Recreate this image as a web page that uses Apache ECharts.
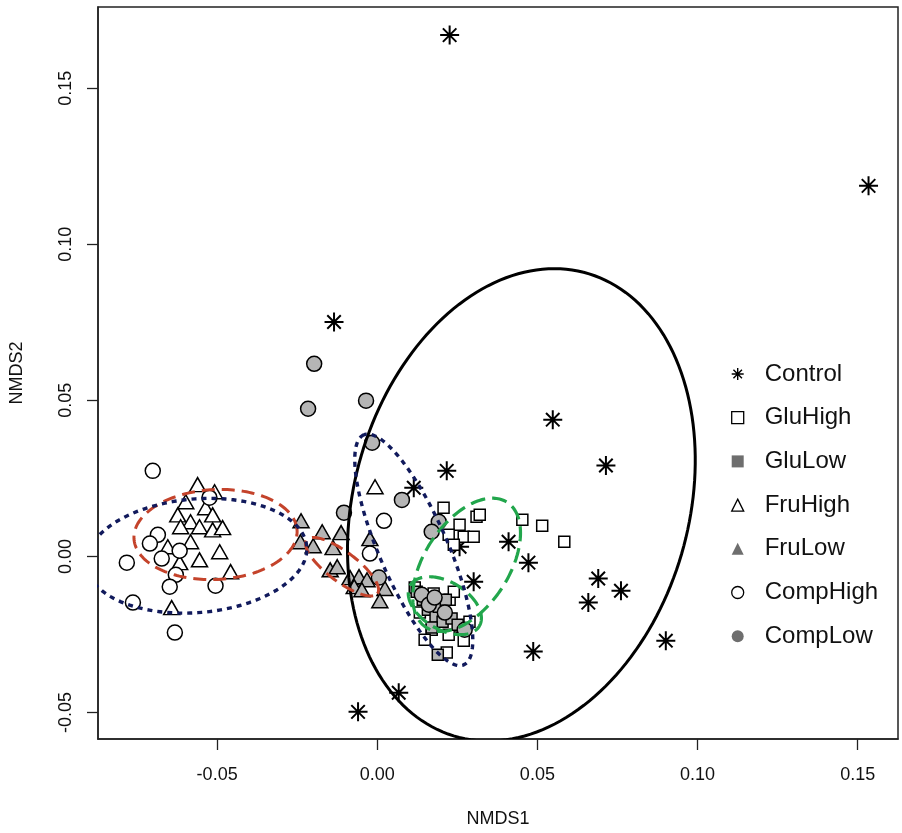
<!DOCTYPE html>
<html>
<head>
<meta charset="utf-8">
<script src="https://cdn.jsdelivr.net/npm/echarts@6/dist/echarts.min.js"></script>
<style>
  html, body { margin: 0; background: #fff; }
  #chart { width: 902px; height: 833px; }
</style>
</head>
<body>
<div id="chart"></div>
<script>
// NMDS scores, one list of [NMDS1, NMDS2] per treatment
var groups = ['Control', 'GluHigh', 'GluLow', 'FruHigh', 'FruLow', 'CompHigh', 'CompLow'];

var control = [
  [0.0226, 0.1670], [0.1534, 0.1187], [-0.0135, 0.0751], [0.0548, 0.0438],
  [0.0714, 0.0291], [0.0217, 0.0274], [0.0114, 0.0220], [0.0410, 0.0047],
  [0.0257, 0.0031], [0.0301, -0.0081], [0.0472, -0.0020], [0.0690, -0.0071],
  [0.0761, -0.0110], [0.0659, -0.0148], [0.0901, -0.0270], [0.0487, -0.0305],
  [0.0067, -0.0437], [-0.0060, -0.0498]
];
var gluHigh = [
  [0.0207, 0.0156], [0.0310, 0.0127], [0.0320, 0.0133], [0.0257, 0.0101],
  [0.0223, 0.0069], [0.0270, 0.0063], [0.0301, 0.0063], [0.0239, 0.0037],
  [0.0453, 0.0117], [0.0515, 0.0098], [0.0584, 0.0047],
  [0.0117, -0.0100], [0.0176, -0.0119], [0.0226, -0.0139], [0.0239, -0.0113],
  [0.0133, -0.0180], [0.0170, -0.0235], [0.0223, -0.0251], [0.0263, -0.0228],
  [0.0288, -0.0209], [0.0148, -0.0267], [0.0270, -0.0270], [0.0217, -0.0308]
];
var gluLow = [
  [0.0123, -0.0113], [0.0142, -0.0139], [0.0158, -0.0171], [0.0182, -0.0193],
  [0.0204, -0.0209], [0.0232, -0.0199], [0.0251, -0.0219], [0.0192, -0.0161],
  [0.0214, -0.0139], [0.0189, -0.0315], [0.0170, -0.0228]
];
var fruHigh = [
  [-0.0561, 0.0230], [-0.0508, 0.0207], [-0.0598, 0.0175], [-0.0536, 0.0156],
  [-0.0623, 0.0133], [-0.0514, 0.0133], [-0.0583, 0.0111], [-0.0614, 0.0095],
  [-0.0555, 0.0095], [-0.0514, 0.0085], [-0.0483, 0.0092], [-0.0583, 0.0047],
  [-0.0654, 0.0031], [-0.0492, 0.0015], [-0.0555, -0.0011], [-0.0617, -0.0020],
  [-0.0458, -0.0049], [-0.0642, -0.0164], [-0.0007, 0.0223]
];
var fruLow = [
  [-0.0238, 0.0114], [-0.0240, 0.0047], [-0.0200, 0.0034], [-0.0172, 0.0079],
  [-0.0113, 0.0076], [-0.0138, 0.0028], [-0.0023, 0.0057], [-0.0147, -0.0043],
  [-0.0125, -0.0033], [-0.0085, -0.0068], [-0.0057, -0.0065], [-0.0032, -0.0075],
  [0.0024, -0.0103], [0.0008, -0.0142], [-0.0072, -0.0097], [-0.0048, -0.0107]
];
var compHigh = [
  [-0.0701, 0.0274], [-0.0685, 0.0069], [-0.0710, 0.0041], [-0.0617, 0.0018],
  [-0.0673, -0.0007], [-0.0782, -0.0020], [-0.0629, -0.0059], [-0.0648, -0.0097],
  [-0.0505, -0.0094], [-0.0763, -0.0148], [-0.0632, -0.0244], [-0.0524, 0.0188],
  [0.0021, 0.0114], [-0.0023, 0.0009]
];
var compLow = [
  [-0.0197, 0.0617], [-0.0216, 0.0473], [-0.0035, 0.0499], [-0.0016, 0.0364],
  [0.0077, 0.0181], [-0.0104, 0.0140], [0.0192, 0.0111], [0.0170, 0.0079],
  [0.0005, -0.0068], [0.0139, -0.0123], [0.0161, -0.0155], [0.0179, -0.0132],
  [0.0211, -0.0180], [0.0273, -0.0235]
];

// group ellipses: centre, semi-axes and angle (degrees) in NMDS units
var ellipseCentreX = [0.0450, 0.0279, 0.0211, -0.0505, -0.0110, -0.0564, 0.0114];
var ellipseCentreY = [0.0165, -0.0027, -0.0158, 0.0070, -0.0033, 0.0002, 0.0021];
var ellipseMajor   = [0.0770, 0.0237, 0.0126, 0.0255, 0.0140, 0.0345, 0.0400];
var ellipseMinor   = [0.0524, 0.0133, 0.0076, 0.0144, 0.0047, 0.0182, 0.0107];
var ellipseAngle   = [75.4, 58.3, -32, 3, -38, 5, 112.9];

var xTicks = [-0.05, 0, 0.05, 0.10, 0.15];
var yTicks = [-0.05, 0, 0.05, 0.10, 0.15];

var FONT = '"Liberation Sans", Arial, sans-serif';
var GREY = '#b5b5b5';
var LEGEND_GREY = '#6e6e6e';
var STAR = 'path://M0,-10L0,10M-10,0L10,0M-7.1,-7.1L7.1,7.1M-7.1,7.1L7.1,-7.1';

var pointData = [control, gluHigh, gluLow, fruHigh, fruLow, compHigh, compLow];
var symbols = [STAR, 'rect', 'rect', 'triangle', 'triangle', 'circle', 'circle'];
var symbolSizes = [19, 11, 11, [16, 14], [16, 14], 15, 15];
var fills = ['transparent', '#fff', GREY, '#fff', GREY, '#fff', GREY];

var ellipseStyles = [
  { stroke: '#000', lineWidth: 3, lineDash: null },
  { stroke: '#22a64c', lineWidth: 3.2, lineDash: [15, 7] },
  { stroke: '#22a64c', lineWidth: 3.2, lineDash: [15, 7] },
  { stroke: '#c4432b', lineWidth: 3, lineDash: [13, 7] },
  { stroke: '#c4432b', lineWidth: 3, lineDash: [13, 7] },
  { stroke: '#111a5c', lineWidth: 3.4, lineDash: [5, 5] },
  { stroke: '#111a5c', lineWidth: 3.4, lineDash: [5, 5] }
];

var series = groups.map(function (name, i) {
  return {
    name: name,
    type: 'scatter',
    data: pointData[i],
    symbol: symbols[i],
    symbolSize: symbolSizes[i],
    itemStyle: {
      color: fills[i],
      borderColor: '#000',
      borderWidth: i === 0 ? 2 : 1.5,
      opacity: 1
    },
    z: 2 + i * 0.01
  };
});

var ellipseData = ellipseCentreX.map(function (cx, i) {
  return [cx, ellipseCentreY[i], ellipseMajor[i], ellipseMinor[i], ellipseAngle[i]];
});

function renderEllipse(params, api) {
  var cx = api.value(0), cy = api.value(1);
  var a = api.value(2), b = api.value(3);
  var ang = api.value(4) * Math.PI / 180;
  var pts = [];
  for (var k = 0; k <= 180; k++) {
    var t = k / 180 * 2 * Math.PI;
    var ex = a * Math.cos(t), ey = b * Math.sin(t);
    pts.push(api.coord([
      cx + ex * Math.cos(ang) - ey * Math.sin(ang),
      cy + ex * Math.sin(ang) + ey * Math.cos(ang)
    ]));
  }
  var st = ellipseStyles[params.dataIndex];
  return {
    type: 'polyline',
    shape: { points: pts },
    style: { stroke: st.stroke, lineWidth: st.lineWidth, lineDash: st.lineDash, fill: null }
  };
}

series.push({
  type: 'custom',
  name: 'ellipses',
  renderItem: renderEllipse,
  data: ellipseData,
  encode: { x: 0, y: 1 },
  clip: true,
  silent: true,
  z: 5
});

var legendItems = groups.map(function (name, i) {
  var st;
  if (i === 0) st = { color: 'transparent', borderColor: '#000', borderWidth: 1.4 };
  else if (fills[i] === GREY) st = { color: LEGEND_GREY, borderWidth: 0 };
  else st = { color: '#fff', borderColor: '#000', borderWidth: 1.3 };
  return { name: name, itemStyle: st };
});

function fmt(v) { return v.toFixed(2); }

var chart = echarts.init(document.getElementById('chart'));
chart.setOption({
  animation: false,
  backgroundColor: '#fff',
  grid: {
    left: 95, right: 4, top: 7, bottom: 94,
    show: true, borderColor: '#222', borderWidth: 1.5
  },
  xAxis: {
    type: 'value',
    min: -0.0872, max: 0.1626,
    name: 'NMDS1', nameLocation: 'middle', nameGap: 71,
    nameTextStyle: { fontSize: 18, color: '#111', fontFamily: FONT },
    axisLine: { show: true, onZero: false, lineStyle: { color: '#222', width: 1.5 } },
    axisTick: { show: true, length: 11, customValues: xTicks, lineStyle: { color: '#222', width: 1.3 } },
    axisLabel: { customValues: xTicks, formatter: fmt, margin: 27, fontSize: 18, color: '#111', fontFamily: FONT },
    splitLine: { show: false }
  },
  yAxis: {
    type: 'value',
    min: -0.0585, max: 0.176,
    name: 'NMDS2', nameLocation: 'middle', nameGap: 72,
    nameTextStyle: { fontSize: 18, color: '#111', fontFamily: FONT },
    axisLine: { show: true, onZero: false, lineStyle: { color: '#222', width: 1.5 } },
    axisTick: { show: true, length: 11, customValues: yTicks, lineStyle: { color: '#222', width: 1.3 } },
    axisLabel: { customValues: yTicks, formatter: fmt, rotate: 90, margin: 23, fontSize: 18, color: '#111', fontFamily: FONT },
    splitLine: { show: false }
  },
  legend: {
    orient: 'vertical',
    left: 726, top: 357,
    itemWidth: 12, itemHeight: 12, itemGap: 19.7,
    selectedMode: false,
    textStyle: { fontSize: 24, color: '#111', fontFamily: FONT, padding: [0, 0, 0, 16] },
    data: legendItems
  },
  series: series
});
</script>
</body>
</html>
